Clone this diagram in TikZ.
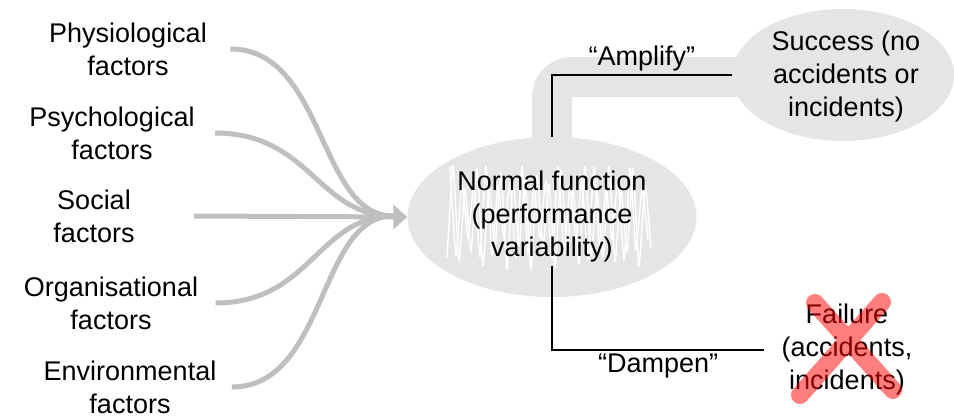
\documentclass[tikz,border=0pt]{standalone}
\usepackage{fontspec}
\setmainfont{Liberation Sans}
\usetikzlibrary{shapes.geometric,arrows.meta}

\begin{document}
\begin{tikzpicture}[
            x=1pt, y=-1pt,
            every node/.style={font=\fontsize{27}{33}\selectfont, align=center},
            flow/.style={draw=black!25, line width=5pt},
            blob/.style={ellipse, fill=black!10, inner sep=0pt},
            link/.style={draw, line width=1.6pt},
            scribble/.style={white, line width=1.4pt, line join=round}
          ]
          \useasboundingbox (0,0) rectangle (954,418);

          % Grey band towards success
          \draw[black!10, line width=40pt, rounded corners=20pt] (552,160) -- (552,77) -- (780,77);

          % Outcome blobs
          \node[blob, minimum width=289pt, minimum height=160pt] (normal) at (552,217) {};
          \node[blob, minimum width=222pt, minimum height=132pt] (success) at (843,75) {};

          % Variability scribble
          \draw[scribble] plot[smooth, tension=0.3, domain=0:34, samples=35]
            ({447+6*\x}, {218+cos(180*\x)*(40+12*sin(83*\x))});
          \draw[scribble] plot[smooth, tension=0.3, domain=0:33, samples=34]
            ({450+6*\x}, {214-cos(180*\x)*(36+12*cos(61*\x))});

          % Factors
          \node (phys)   at (128,49)  {Physiological\\factors};
          \node (psych)  at (112,133) {Psychological\\factors};
          \node (social) at (94,216)  {Social\\factors};
          \node (org)    at (111,303) {Organisational\\factors};
          \node (env)    at (130,387) {Environmental\\factors};

          % Texts
          \node (normaltext) at (normal) {Normal function\\(performance\\variability)};
          \node (successtext) at (846,77) {Success (no\\accidents or\\incidents)};
          \node (failure) at (847,350) {Failure\\(accidents,\\incidents)};

          % Factors flowing in
          \coordinate (hub) at (393,216);
          \foreach \f/\gap in {phys/20, psych/17, org/14, env/12}
            \draw[flow] ([xshift=\gap pt]\f.east) .. controls +(95,0) and +(-75,0) .. (hub);
          \draw[flow, -{Triangle[length=14pt, width=24pt]}] ([xshift=56pt]social.east) -- (normal.west);

          % Amplify / dampen
          \draw[link] (normal.north) |- node[pos=0.75, above] {“Amplify”} (success.west);
          \draw[link] (normaltext.south) |- node[pos=0.75, below] {“Dampen”} ([xshift=-14pt]failure.west);

          % Cross over failure
          \draw[red, opacity=0.5, line width=18pt, line cap=round]
            (815,303) -- (893,390) (882,302) -- (800,395);

        \end{tikzpicture}
\end{document}
